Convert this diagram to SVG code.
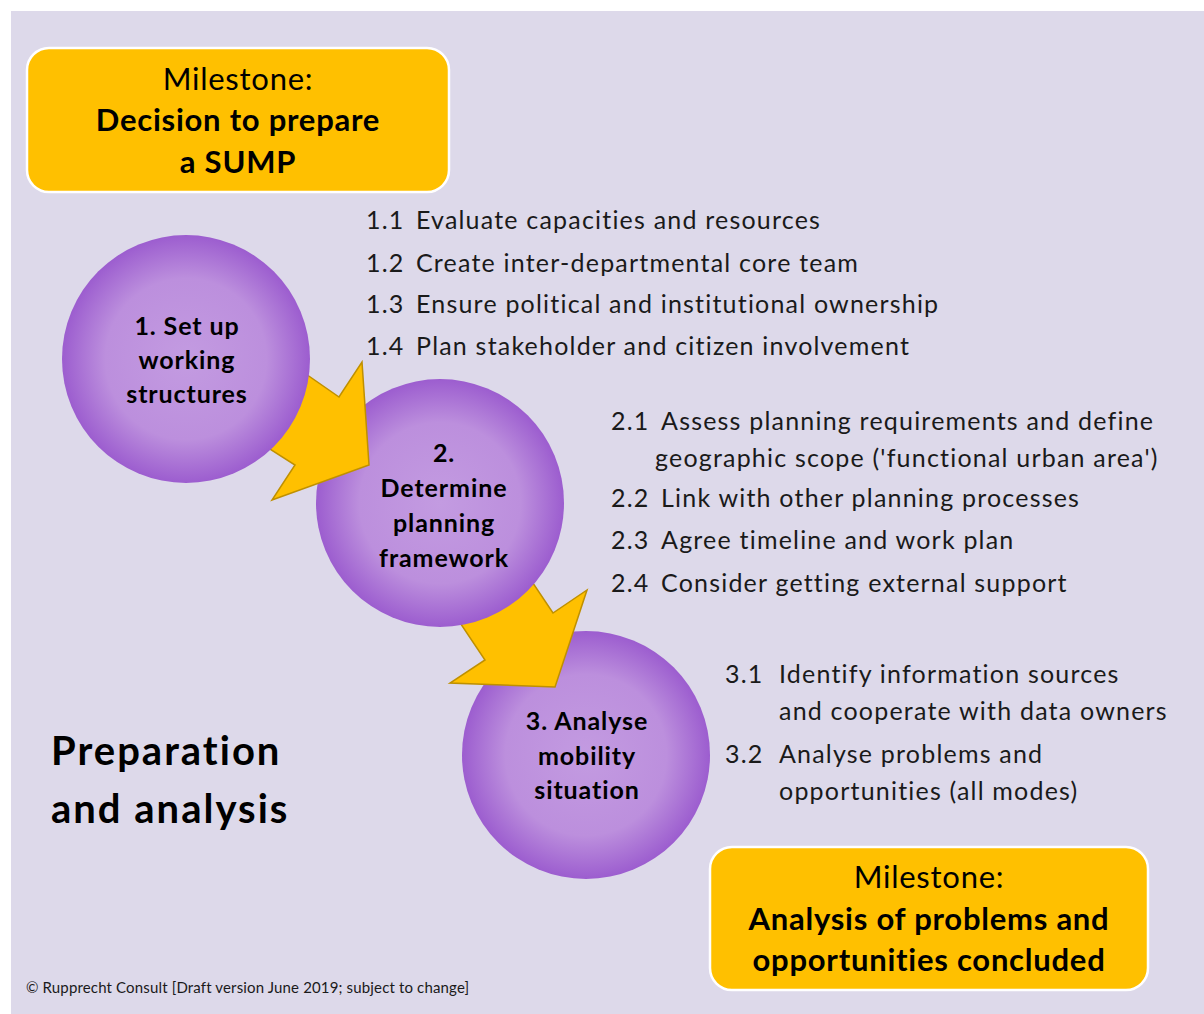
<svg xmlns="http://www.w3.org/2000/svg" width="1204" height="1014" viewBox="0 0 1204 1014">
<defs>
<radialGradient id="ball" cx="50%" cy="50%" r="50%">
<stop offset="0" stop-color="#C39BE1"/>
<stop offset="0.65" stop-color="#BC8FDD"/>
<stop offset="1" stop-color="#9C5DCF"/>
</radialGradient>
<style>
.bg{fill:#DDD9EA}
.ms{fill:#FFC000;stroke:#FFFFFF;stroke-width:2.5}
.ball{fill:url(#ball)}
.arrow{fill:#FFC000;stroke:#BF9000;stroke-width:1.5;stroke-linejoin:miter}
text{font-family:Lato,"Liberation Sans",sans-serif;fill:#000}
.mr{font-size:31px;letter-spacing:0.75px;text-anchor:middle}
.mb{font-size:31px;letter-spacing:0.75px;font-weight:bold;text-anchor:middle}
.cb{font-size:25px;letter-spacing:0.9px;font-weight:bold;text-anchor:middle}
.li{font-size:25px;letter-spacing:1.2px;fill:#1a1a1a}
.title{font-size:40px;letter-spacing:2px;font-weight:bold}
.copy{font-size:15px;letter-spacing:0.15px;fill:#1a1a1a}
</style>
</defs>
<rect class="bg" x="11" y="11" width="1193" height="1003"/>

<g id="milestone1">
<rect class="ms" x="27" y="48" width="422" height="144" rx="22"/>
<text class="mr" x="238" y="90">Milestone:</text>
<text class="mb" x="238" y="131">Decision to prepare</text>
<text class="mb" x="238" y="173">a SUMP</text>
</g>

<g id="step3">
<circle class="ball" cx="586" cy="755" r="124"/>
<text class="cb" x="587" y="730">3. Analyse</text>
<text class="cb" x="587" y="765">mobility</text>
<text class="cb" x="587" y="799">situation</text>
</g>

<g id="connectors">
<path id="arrow2" class="arrow" d="M418,560 L486,513 L553,613 L587,590 L555,687 L450,683 L485,660 Z"/>
</g>

<g id="step2">
<circle class="ball" cx="440" cy="503" r="124"/>
<text class="cb" x="444" y="462">2.</text>
<text class="cb" x="444" y="497">Determine</text>
<text class="cb" x="444" y="532">planning</text>
<text class="cb" x="444" y="567">framework</text>
</g>

<g id="connectors1">
<path id="arrow1" class="arrow" d="M212,412 L257,340 L339,397 L362,362 L369,465 L272,500 L295,465 Z"/>
</g>

<g id="step1">
<circle class="ball" cx="186" cy="359" r="124"/>
<text class="cb" x="187" y="335">1. Set up</text>
<text class="cb" x="187" y="369">working</text>
<text class="cb" x="187" y="403">structures</text>
</g>

<g id="list1">
<text class="li" x="366" y="229">1.1</text><text class="li" x="416" y="229">Evaluate capacities and resources</text>
<text class="li" x="366" y="272">1.2</text><text class="li" x="416" y="272">Create inter-departmental core team</text>
<text class="li" x="366" y="313">1.3</text><text class="li" x="416" y="313">Ensure political and institutional ownership</text>
<text class="li" x="366" y="355">1.4</text><text class="li" x="416" y="355">Plan stakeholder and citizen involvement</text>
</g>

<g id="list2">
<text class="li" x="611" y="430">2.1</text><text class="li" x="661" y="430">Assess planning requirements and define</text>
<text class="li" x="655" y="467">geographic scope ('functional urban area')</text>
<text class="li" x="611" y="507">2.2</text><text class="li" x="661" y="507">Link with other planning processes</text>
<text class="li" x="611" y="549">2.3</text><text class="li" x="661" y="549">Agree timeline and work plan</text>
<text class="li" x="611" y="592">2.4</text><text class="li" x="661" y="592">Consider getting external support</text>
</g>

<g id="list3">
<text class="li" x="725" y="683">3.1</text><text class="li" x="779" y="683">Identify information sources</text>
<text class="li" x="779" y="720">and cooperate with data owners</text>
<text class="li" x="725" y="763">3.2</text><text class="li" x="779" y="763">Analyse problems and</text>
<text class="li" x="779" y="800">opportunities (all modes)</text>
</g>

<g id="title">
<text class="title" x="51" y="765">Preparation</text>
<text class="title" x="51" y="823">and analysis</text>
</g>

<g id="milestone2">
<rect class="ms" x="710" y="847" width="438" height="143" rx="22"/>
<text class="mr" x="929" y="888">Milestone:</text>
<text class="mb" x="929" y="930">Analysis of problems and</text>
<text class="mb" x="929" y="971">opportunities concluded</text>
</g>

<text class="copy" x="26" y="993">© Rupprecht Consult [Draft version June 2019; subject to change]</text>
</svg>
